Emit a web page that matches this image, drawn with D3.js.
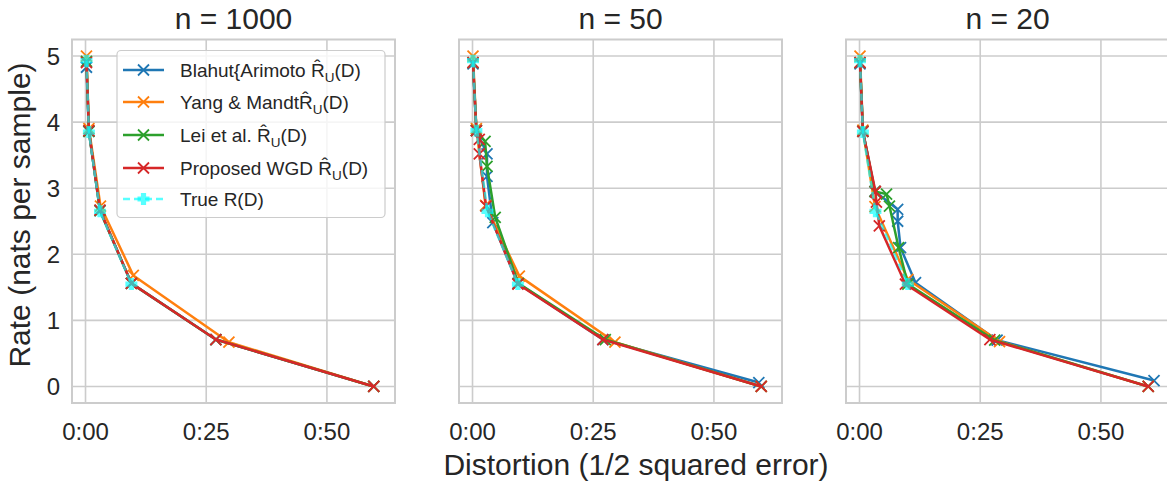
<!DOCTYPE html>
<html>
<head>
<meta charset="utf-8">
<script src="https://cdn.jsdelivr.net/npm/d3@7"></script>
<style>
  body { margin: 0; background: #fff; }
  text { font-family: "Liberation Sans", Arial, sans-serif; fill: #262626; }
</style>
</head>
<body>
<div id="stage"></div>
<script>
// titles and legend names
const titles = ["n = 1000", "n = 50", "n = 20"];
const methodNames = ["Blahut{Arimoto ", "Yang & Mandt", "Lei et al. ", "Proposed WGD "];
const colors = ["#1f77b4", "#ff7f0e", "#2ca02c", "#d62728"];
const xTicks = [0, 0.25, 0.5];
const xTickLabels = ["0:00", "0:25", "0:50"];
const yTicks = [0, 1, 2, 3, 4, 5];

// [distortion, rate] per panel
const ba1000 = [[0.002,4.83],[0.007,3.86],[0.030,2.66],[0.095,1.56],[0.27,0.71],[0.597,0.0]];
const ym1000 = [[0.002,5.0],[0.007,3.9],[0.031,2.73],[0.099,1.68],[0.297,0.67],[0.597,0.0]];
const lei1000 = [[0.002,4.92],[0.007,3.86],[0.030,2.66],[0.095,1.56],[0.27,0.71],[0.597,0.0]];
const wgd1000 = [[0.002,4.9],[0.007,3.87],[0.030,2.67],[0.095,1.56],[0.27,0.71],[0.597,0.0]];
const true1000 = [[0.002,4.93],[0.007,3.85],[0.030,2.65],[0.095,1.55]];

const ba50 = [[0.001,4.88],[0.008,3.87],[0.030,3.52],[0.030,3.18],[0.042,2.48],[0.094,1.56],[0.27,0.71],[0.593,0.06]];
const ym50 = [[0.001,5.0],[0.008,3.9],[0.027,2.74],[0.097,1.67],[0.295,0.67],[0.598,0.0]];
const lei50 = [[0.001,4.9],[0.008,3.87],[0.026,3.71],[0.030,3.33],[0.047,2.56],[0.095,1.56],[0.275,0.71],[0.598,0.0]];
const wgd50 = [[0.001,4.9],[0.008,3.87],[0.014,3.74],[0.014,3.52],[0.028,2.73],[0.094,1.55],[0.27,0.71],[0.598,0.0]];
const true50 = [[0.001,4.93],[0.008,3.87],[0.031,2.65],[0.094,1.55]];

const ba20 = [[0.001,4.88],[0.007,3.86],[0.032,2.95],[0.079,2.68],[0.079,2.5],[0.085,2.1],[0.116,1.57],[0.285,0.70],[0.61,0.09]];
const ym20 = [[0.001,5.0],[0.007,3.88],[0.032,2.72],[0.1,1.62],[0.29,0.68],[0.598,0.0]];
const lei20 = [[0.001,4.9],[0.007,3.86],[0.032,2.95],[0.056,2.91],[0.062,2.73],[0.081,2.1],[0.1,1.55],[0.28,0.70],[0.598,0.0]];
const wgd20 = [[0.001,4.9],[0.007,3.86],[0.033,2.95],[0.035,2.79],[0.041,2.43],[0.095,1.55],[0.27,0.71],[0.598,0.0]];
const true20 = [[0.001,4.93],[0.007,3.85],[0.033,2.65],[0.1,1.55]];

const panelSeries = [
  [ba1000, ym1000, lei1000, wgd1000],
  [ba50, ym50, lei50, wgd50],
  [ba20, ym20, lei20, wgd20]
];
const panelTrue = [true1000, true50, true20];

const W = 1167, H = 485;
const panelLeft = [72, 459, 846];
const panelW = 323;
const plotTop = 39.5, plotBottom = 403;
const trueColor = "rgba(0,255,255,0.65)";

const svg = d3.select("#stage").append("svg")
  .attr("width", W).attr("height", H);

const y = d3.scaleLinear().domain([-0.25, 5.25]).range([plotBottom, plotTop]);

const xMark = (g, cx, cy, color) => {
  const s = 5.5;
  g.append("path")
    .attr("d", `M${cx - s},${cy - s}L${cx + s},${cy + s}M${cx - s},${cy + s}L${cx + s},${cy - s}`)
    .attr("stroke", color).attr("stroke-width", 1.8).attr("fill", "none");
};

const plusMark = (g, cx, cy, color) => {
  const a = 6, b = 2.6;
  g.append("path")
    .attr("d", `M${cx - b},${cy - a}H${cx + b}V${cy - b}H${cx + a}V${cy + b}H${cx + b}V${cy + a}H${cx - b}V${cy + b}H${cx - a}V${cy - b}H${cx - b}Z`)
    .attr("fill", color);
};

panelLeft.forEach((left, p) => {
  const x = d3.scaleLinear().domain([-0.028, 0.641]).range([left, left + panelW]);
  const g = svg.append("g");

  // grid
  g.selectAll(".gx").data(xTicks).join("line")
    .attr("x1", d => x(d)).attr("x2", d => x(d))
    .attr("y1", plotTop).attr("y2", plotBottom)
    .attr("stroke", "#cccccc").attr("stroke-width", 1.6);
  g.selectAll(".gy").data(yTicks).join("line")
    .attr("x1", left).attr("x2", left + panelW)
    .attr("y1", d => y(d)).attr("y2", d => y(d))
    .attr("stroke", "#cccccc").attr("stroke-width", 1.6);

  g.append("rect")
    .attr("x", left).attr("y", plotTop)
    .attr("width", panelW).attr("height", plotBottom - plotTop)
    .attr("fill", "none").attr("stroke", "#cccccc").attr("stroke-width", 2);

  // x tick labels
  g.selectAll(".xt").data(xTicks).join("text")
    .attr("x", d => x(d)).attr("y", 440)
    .attr("text-anchor", "middle")
    .attr("font-size", 24)
    .text((d, i) => xTickLabels[i]);

  if (p === 0) {
    g.selectAll(".yt").data(yTicks).join("text")
      .attr("x", 60).attr("y", d => y(d) + 8.5)
      .attr("text-anchor", "end")
      .attr("font-size", 24)
      .text(d => d);
  }

  g.append("text")
    .attr("x", left + panelW / 2).attr("y", 29)
    .attr("text-anchor", "middle")
    .attr("font-size", 30)
    .text(titles[p]);

  const line = d3.line().x(d => x(d[0])).y(d => y(d[1]));

  panelSeries[p].forEach((data, m) => {
    g.append("path").attr("d", line(data))
      .attr("fill", "none").attr("stroke", colors[m]).attr("stroke-width", 2.5)
      .attr("stroke-linejoin", "round");
    data.forEach(d => xMark(g, x(d[0]), y(d[1]), colors[m]));
  });

  const td = panelTrue[p];
  g.append("path").attr("d", line(td))
    .attr("fill", "none").attr("stroke", trueColor).attr("stroke-width", 2.5)
    .attr("stroke-dasharray", "7,4");
  td.forEach(d => plusMark(g, x(d[0]), y(d[1]), trueColor));
});

// axis labels
svg.append("text")
  .attr("x", 636).attr("y", 475)
  .attr("text-anchor", "middle").attr("font-size", 30)
  .text("Distortion (1/2 squared error)");

svg.append("text")
  .attr("transform", "translate(30,215) rotate(-90)")
  .attr("text-anchor", "middle").attr("font-size", 30)
  .text("Rate (nats per sample)");

// legend
const lg = svg.append("g");
lg.append("rect")
  .attr("x", 117).attr("y", 50.5).attr("width", 268).attr("height", 167)
  .attr("rx", 4).attr("fill", "rgba(255,255,255,0.8)")
  .attr("stroke", "#cccccc").attr("stroke-width", 1.2);

const rowY = [70, 102, 135, 168, 199];
methodNames.forEach((name, i) => {
  const yy = rowY[i];
  lg.append("line").attr("x1", 123).attr("x2", 164).attr("y1", yy).attr("y2", yy)
    .attr("stroke", colors[i]).attr("stroke-width", 2.5);
  xMark(lg, 143.5, yy, colors[i]);
  const t = lg.append("text").attr("x", 180).attr("y", yy + 6.5).attr("font-size", 19);
  t.append("tspan").text(name);
  t.append("tspan").text("R\u0302");
  t.append("tspan").attr("font-size", 13.5).attr("dy", 5).text("U");
  t.append("tspan").attr("dy", -5).text("(D)");
});
lg.append("line").attr("x1", 123).attr("x2", 164).attr("y1", rowY[4]).attr("y2", rowY[4])
  .attr("stroke", trueColor).attr("stroke-width", 2.5).attr("stroke-dasharray", "7,4");
plusMark(lg, 143.5, rowY[4], trueColor);
lg.append("text").attr("x", 180).attr("y", rowY[4] + 6.5).attr("font-size", 19)
  .text("True R(D)");
</script>
</body>
</html>
